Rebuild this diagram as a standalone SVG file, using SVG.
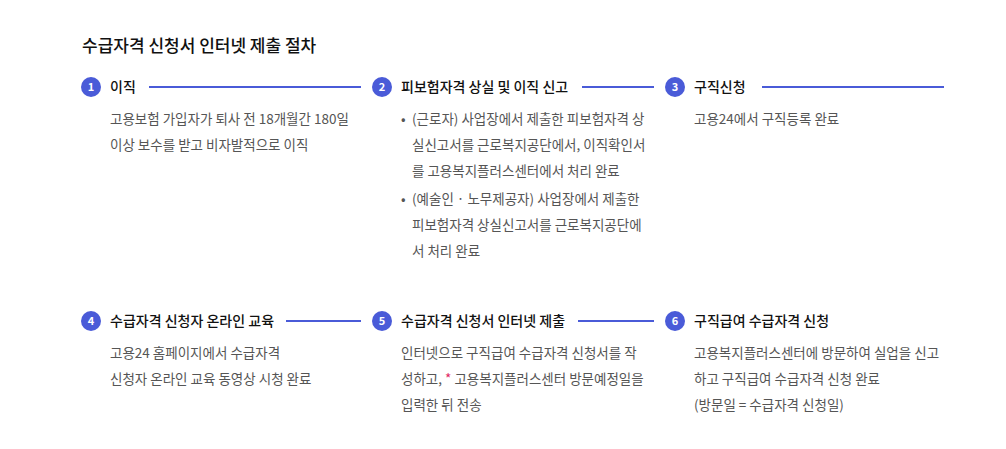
<svg xmlns="http://www.w3.org/2000/svg" width="1006" height="449" viewBox="0 0 1006 449">
<style>
text{font-family:"Noto Sans CJK KR","Noto Sans",sans-serif}
.t{font-size:17px;fill:#111;font-weight:500}
.h{font-size:14px;fill:#111;font-weight:500}
.b{font-size:13.5px;fill:#555}
.n{font-size:11px;fill:#fff;font-weight:700;text-anchor:middle}
circle{fill:#4a5bd8}
line{stroke:#4a5bd8;stroke-width:2}
</style>
<rect width="1006" height="449" fill="#fff"/>
<text class="t" x="82" y="52">수급자격 신청서 인터넷 제출 절차</text>
<g id="connectors">
<line x1="149" y1="87" x2="361" y2="87"/>
<line x1="582" y1="87" x2="654" y2="87"/>
<line x1="762" y1="87" x2="944" y2="87"/>
<line x1="286" y1="321" x2="361" y2="321"/>
<line x1="578" y1="321" x2="654" y2="321"/>
</g>
<g id="step1"><circle cx="91" cy="87" r="10"/><text class="n" x="91" y="91">1</text>
<text class="h" x="110" y="92">이직</text>
<text class="b" x="110" y="124">고용보험 가입자가 퇴사 전 18개월간 180일</text>
<text class="b" x="110" y="150">이상 보수를 받고 비자발적으로 이직</text></g>
<g id="step2"><circle cx="382" cy="87" r="10"/><text class="n" x="382" y="91">2</text>
<text class="h" x="401" y="92">피보험자격 상실 및 이직 신고</text>
<text class="b" x="401" y="124">•</text>
<text class="b" x="412" y="124">(근로자) 사업장에서 제출한 피보험자격 상</text>
<text class="b" x="412" y="150">실신고서를 근로복지공단에서, 이직확인서</text>
<text class="b" x="412" y="176">를 고용복지플러스센터에서 처리 완료</text>
<text class="b" x="401" y="204">•</text>
<text class="b" x="412" y="204">(예술인 · 노무제공자) 사업장에서 제출한</text>
<text class="b" x="412" y="230">피보험자격 상실신고서를 근로복지공단에</text>
<text class="b" x="412" y="256">서 처리 완료</text></g>
<g id="step3"><circle cx="675" cy="87" r="10"/><text class="n" x="675" y="91">3</text>
<text class="h" x="694" y="92">구직신청</text>
<text class="b" x="694" y="124">고용24에서 구직등록 완료</text></g>
<g id="step4"><circle cx="91" cy="321" r="10"/><text class="n" x="91" y="325">4</text>
<text class="h" x="110" y="326">수급자격 신청자 온라인 교육</text>
<text class="b" x="110" y="358">고용24 홈페이지에서 수급자격</text>
<text class="b" x="110" y="384">신청자 온라인 교육 동영상 시청 완료</text></g>
<g id="step5"><circle cx="382" cy="321" r="10"/><text class="n" x="382" y="325">5</text>
<text class="h" x="401" y="326">수급자격 신청서 인터넷 제출</text>
<text class="b" x="401" y="358">인터넷으로 구직급여 수급자격 신청서를 작</text>
<text class="b" x="401" y="384">성하고, <tspan fill="#e0245e">*</tspan> 고용복지플러스센터 방문예정일을</text>
<text class="b" x="401" y="410">입력한 뒤 전송</text></g>
<g id="step6"><circle cx="675" cy="321" r="10"/><text class="n" x="675" y="325">6</text>
<text class="h" x="694" y="326">구직급여 수급자격 신청</text>
<text class="b" x="694" y="358">고용복지플러스센터에 방문하여 실업을 신고</text>
<text class="b" x="694" y="384">하고 구직급여 수급자격 신청 완료</text>
<text class="b" x="694" y="410">(방문일 = 수급자격 신청일)</text></g>
</svg>
